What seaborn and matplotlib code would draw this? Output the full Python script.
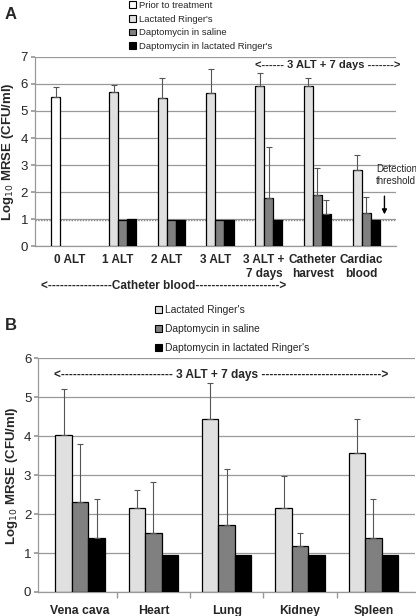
import numpy as np
import pandas as pd
import matplotlib
matplotlib.use("Agg")
import matplotlib.pyplot as plt
from matplotlib.patches import Patch
import seaborn as sns

# ---- panel A data ----
sites_a = ["0 ALT", "1 ALT", "2 ALT", "3 ALT", "3 ALT +\n7 days", "Catheter\nharvest", "Cardiac\nblood"]
groups_a = ["Prior to treatment", "Lactated Ringer's", "Daptomycin in saline", "Daptomycin in lactated Ringer's"]
prior_a = [5.52, np.nan, np.nan, np.nan, np.nan, np.nan, np.nan]
prior_a_sd = [0.35, np.nan, np.nan, np.nan, np.nan, np.nan, np.nan]
lr_a = [np.nan, 5.72, 5.48, 5.67, 5.92, 5.94, 2.83]
lr_a_sd = [np.nan, 0.25, 0.75, 0.87, 0.50, 0.27, 0.53]
dap_sal_a = [np.nan, 0.95, 0.95, 0.95, 1.79, 1.90, 1.22]
dap_sal_a_sd = [np.nan, np.nan, np.nan, np.nan, 1.89, 1.00, 0.61]
dap_lr_a = [np.nan, 0.99, 0.95, 0.95, 0.95, 1.20, 0.96]
dap_lr_a_sd = [np.nan, np.nan, np.nan, np.nan, np.nan, 0.52, np.nan]
threshold = 0.97

# ---- panel B data ----
organs_b = ["Vena cava", "Heart", "Lung", "Kidney", "Spleen"]
groups_b = ["Lactated Ringer's", "Daptomycin in saline", "Daptomycin in lactated Ringer's"]
lr_b = [4.04, 2.16, 4.43, 2.16, 3.58]
lr_b_sd = [1.17, 0.47, 0.94, 0.81, 0.87]
dap_sal_b = [2.30, 1.52, 1.73, 1.17, 1.39]
dap_sal_b_sd = [1.51, 1.31, 1.42, 0.34, 1.01]
dap_lr_b = [1.39, 0.96, 0.96, 0.96, 0.96]
dap_lr_b_sd = [1.01, np.nan, np.nan, np.nan, np.nan]

colors = {"Prior to treatment": "#ffffff", "Lactated Ringer's": "#e0e0e0",
          "Daptomycin in saline": "#808080", "Daptomycin in lactated Ringer's": "#000000"}


def long_table(cats, groups, vals, sds):
    rows = []
    for g, v, s in zip(groups, vals, sds):
        for c, y, e in zip(cats, v, s):
            if not np.isnan(y):
                rows.append({"site": c, "group": g, "value": y, "sd": e})
    return pd.DataFrame(rows)


def draw_panel(ax, df, cats, groups, width, xsize, xpad):
    sns.barplot(data=df, x="site", y="value", hue="group", order=cats, hue_order=groups,
                palette=colors, width=width, dodge=True, errorbar=None,
                edgecolor="black", linewidth=0.9, legend=False, ax=ax, zorder=3)
    # upper-only error bars, placed on the drawn bars
    for g, cont in zip(groups, ax.containers):
        sub = df[df["group"] == g]
        for bar in cont:
            cx = bar.get_x() + bar.get_width() / 2
            idx = int(round(cx))
            row = sub[sub["site"] == cats[idx]]
            if len(row) == 0 or np.isnan(row["sd"].iloc[0]):
                continue
            ax.errorbar(cx, row["value"].iloc[0], yerr=[[0], [row["sd"].iloc[0]]],
                        fmt="none", ecolor="#555555", elinewidth=0.8, capsize=2,
                        capthick=0.8, zorder=4)
    ax.set_xlabel("")
    ax.set_ylabel("Log$_{10}$ MRSE (CFU/ml)", fontsize=9.5, fontweight="bold", labelpad=3)
    ax.yaxis.grid(True, color="#999999", linewidth=0.9, zorder=0)
    ax.set_axisbelow(True)
    for s in ["top", "right"]:
        ax.spines[s].set_visible(False)
    for s in ["left", "bottom"]:
        ax.spines[s].set_color("#999999")
        ax.spines[s].set_linewidth(0.9)
    ax.tick_params(axis="y", labelsize=9.5, length=3, color="#999999", pad=2, left=True)
    ax.tick_params(axis="x", labelsize=xsize, length=0, pad=xpad)
    for t in ax.get_xticklabels():
        t.set_fontweight("bold")


sns.set_theme(style="white")
plt.rcParams["font.family"] = ["Liberation Sans", "DejaVu Sans"]

fig = plt.figure(figsize=(4.16, 6.16), dpi=100)

# ---- panel A ----
ax_a = fig.add_axes([0.0841, 0.6006, 0.8678, 0.3069])
df_a = long_table(sites_a, groups_a, [prior_a, lr_a, dap_sal_a, dap_lr_a],
                  [prior_a_sd, lr_a_sd, dap_sal_a_sd, dap_lr_a_sd])
draw_panel(ax_a, df_a, sites_a, groups_a, 0.74, 8.5, 6)
ax_a.set_ylim(0, 7)
ax_a.set_yticks(range(0, 8))
ax_a.axhline(threshold, color="#888888", linestyle=(0, (1, 1)), linewidth=1.0, zorder=2)
ax_a.text(0.81, 0.955, "<------ 3 ALT + 7 days ------->", transform=ax_a.transAxes,
          ha="center", va="center", fontsize=8, fontweight="bold")
ax_a.text(0.945, 0.376, "Detection\nthreshold", transform=ax_a.transAxes,
          ha="left", va="center", fontsize=7, linespacing=1.15)
ax_a.annotate("", xy=(6.47, threshold + 0.1), xytext=(6.47, 1.95),
              arrowprops=dict(arrowstyle="-|>", color="black", lw=1, mutation_scale=7))
ax_a.text(0.355, -0.212, "<----------------Catheter blood--------------------->",
          transform=ax_a.transAxes, ha="center", va="center", fontsize=8.5, fontweight="bold")
fig.legend(handles=[Patch(facecolor=colors[g], edgecolor="black", linewidth=0.8, label=g) for g in groups_a],
           loc="upper left", bbox_to_anchor=(0.295, 1.009), frameon=False, fontsize=6.8,
           handlelength=0.7, handleheight=0.7, handletextpad=0.3, labelspacing=0.48,
           borderpad=0.2)
fig.text(0.012, 0.977, "A", fontsize=12, fontweight="bold", ha="left", va="center")

# ---- panel B ----
ax_b = fig.add_axes([0.092, 0.039, 0.906, 0.3793])
df_b = long_table(organs_b, groups_b, [lr_b, dap_sal_b, dap_lr_b],
                  [lr_b_sd, dap_sal_b_sd, dap_lr_b_sd])
draw_panel(ax_b, df_b, organs_b, groups_b, 0.675, 8.8, 9.5)
ax_b.set_ylim(0, 6)
ax_b.set_yticks(range(0, 7))
ax_b.set_xticks([i + 0.5 for i in range(len(organs_b) - 1)], minor=True)
ax_b.tick_params(axis="x", which="minor", length=4, color="#999999", bottom=True)
ax_b.text(0.485, 0.93, "<---------------------------- 3 ALT + 7 days ------------------------------>",
          transform=ax_b.transAxes, ha="center", va="center", fontsize=8.6, fontweight="bold")
fig.legend(handles=[Patch(facecolor=colors[g], edgecolor="black", linewidth=0.8, label=g) for g in groups_b],
           loc="upper left", bbox_to_anchor=(0.355, 0.516), frameon=False, fontsize=7.4,
           handlelength=0.7, handleheight=0.7, handletextpad=0.3, labelspacing=0.85,
           borderpad=0.2)
fig.text(0.012, 0.472, "B", fontsize=12, fontweight="bold", ha="left", va="center")

fig.savefig("out.png", dpi=100)
